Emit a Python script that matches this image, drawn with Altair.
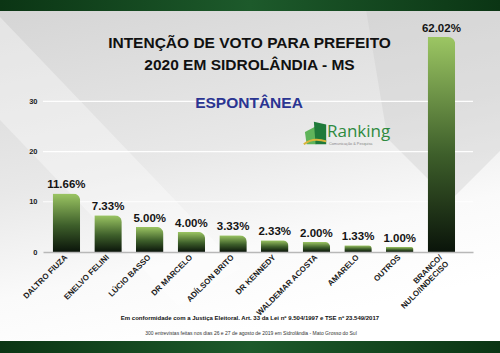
import altair as alt
import pandas as pd

# ---- data ----
candidates = ["DALTRO FIUZA", "ENELVO FELINI", "LÚCIO BASSO", "DR MARCELO", "ADÍLSON BRITO",
              "DR KENNEDY", "WALDEMAR ACOSTA", "AMARELO", "OUTROS", "BRANCO/\nNULO/INDECISO"]
values = [11.66, 7.33, 5.00, 4.00, 3.33, 2.33, 2.00, 1.33, 1.00, 62.02]
y_ticks = [0, 10, 20, 30]

title_lines = ["INTENÇÃO DE VOTO PARA PREFEITO", "2020 EM SIDROLÂNDIA - MS"]
subtitle = "ESPONTÂNEA"
footer1 = "Em conformidade com a Justiça Eleitoral. Art. 33 da Lei nº 9.504/1997 e TSE nº 23.549/2017"
footer2 = "300 entrevistas feitas nos dias 26 e 27 de agosto de 2019 em Sidrolândia - Mato Grosso do Sul"

df = pd.DataFrame({"cand": candidates, "value": values})
ticks_df = pd.DataFrame({"t": y_ticks})
one = pd.DataFrame({"a": [0]})

W, H = 430, 216
Y_MAX = 43

xscale = alt.Scale(paddingInner=0.34, paddingOuter=0.33, align=0.35)
yscale = alt.Scale(domain=[0, Y_MAX], nice=False)
yaxis = alt.Axis(values=y_ticks, ticks=False, domain=False, labelPadding=6,
                 labelFont="Liberation Sans", labelFontWeight="bold", labelFontSize=7.5,
                 labelColor="#222222", grid=False, zindex=1, title=None)

# ---- background decorations ----
bg = alt.Chart(one).mark_rect(
    color=alt.Gradient(gradient="linear",
                       stops=[alt.GradientStop(color="#d4d4d4", offset=0),
                              alt.GradientStop(color="#e8e8e8", offset=0.5),
                              alt.GradientStop(color="#fafafa", offset=0.78),
                              alt.GradientStop(color="#ffffff", offset=1)],
                       x1=0, x2=0.3, y1=0, y2=1)
).encode(x=alt.value(-43), x2=alt.value(457), y=alt.value(-36), y2=alt.value(317))

# subtle diagonal light bands (decorative)
stripe1 = alt.Chart(one).mark_point(
    shape="M -1 -0.55 L -0.75 -0.7 L 0.35 0.45 L 0.1 0.6 Z", filled=True,
    color="#ffffff", opacity=0.35, size=250000).encode(x=alt.value(110), y=alt.value(120))
stripe2 = alt.Chart(one).mark_point(
    shape="M 0.45 -0.75 L 1 -0.75 L 1 -0.1 L 0.8 0.1 L 0.55 -0.15 Z", filled=True,
    color="#c8c8c8", opacity=0.35, size=250000).encode(x=alt.value(207), y=alt.value(140))

band_grad = alt.Gradient(gradient="linear",
                         stops=[alt.GradientStop(color="#0b3514", offset=0),
                                alt.GradientStop(color="#1d5a2b", offset=0.5),
                                alt.GradientStop(color="#0b3514", offset=1)],
                         x1=0, x2=1, y1=0, y2=0)
top_band = alt.Chart(one).mark_rect(color=band_grad).encode(
    x=alt.value(-43), x2=alt.value(457), y=alt.value(-36), y2=alt.value(-25))
bot_band = alt.Chart(one).mark_rect(color=band_grad).encode(
    x=alt.value(-43), x2=alt.value(457), y=alt.value(305), y2=alt.value(317))

# white grid lines behind the bars
grid = alt.Chart(ticks_df).transform_filter("datum.t > 0").mark_rule(
    color="#ffffff", strokeWidth=1.2, opacity=0.95).encode(
    y=alt.Y("t:Q", scale=yscale, axis=yaxis),
    x=alt.value(0), x2=alt.value(W))

# ---- bars ----
bar_grad = alt.Gradient(gradient="linear",
                        stops=[alt.GradientStop(color="#0a140a", offset=0),
                               alt.GradientStop(color="#3d5e2a", offset=0.45),
                               alt.GradientStop(color="#9cc663", offset=1)],
                        x1=0, x2=0, y1=1, y2=0)

base = alt.Chart(df).transform_calculate(
    shown=f"min(datum.value, {Y_MAX - 0.2})",
    label="format(datum.value, '.2f') + '%'"
)

x_enc = alt.X("cand:N", sort=candidates, scale=xscale, title=None,
              axis=alt.Axis(labelAngle=-45, labelAlign="right", labelBaseline="middle",
                            labelFont="Liberation Sans", labelFontWeight="bold", labelFontSize=8,
                            labelColor="#1a1a1a", labelPadding=4, ticks=False,
                            domainColor="#b8b8b8", domainWidth=1.5, grid=False, zindex=1,
                            labelExpr="split(datum.label, '\\n')", labelLineHeight=9))

bars = base.mark_bar(color=bar_grad, cornerRadiusTopRight=7).encode(
    x=x_enc,
    y=alt.Y("shown:Q", scale=yscale, title=None, axis=yaxis)
)

labels = base.mark_text(font="Liberation Sans", fontWeight="bold", fontSize=11.5,
                        color="#141414", baseline="alphabetic", dy=-5).encode(
    x=alt.X("cand:N", sort=candidates, scale=xscale),
    y=alt.Y("shown:Q", scale=yscale, axis=yaxis),
    text="label:N"
)

# ---- texts ----
def txt(s, x, y, size, color="#111111", weight="bold", font="Liberation Sans", align="center"):
    return alt.Chart(one).mark_text(text=s, font=font, fontSize=size, fontWeight=weight,
                                    color=color, align=align, baseline="middle").encode(
        x=alt.value(x), y=alt.value(y))

t1 = txt(title_lines[0], 206.5, 7, 15.5)
t2 = txt(title_lines[1], 206.5, 29, 15.5)
t3 = txt(subtitle, 206, 67, 15.5, color="#2b3592")
f1 = txt(footer1, 207, 282, 6)
f2 = txt(footer2, 208, 297, 5, color="#333333", weight="normal")

# ---- logo ----
logo_text = txt("Ranking", 284, 96, 17, color="#2f8a3f", weight="normal", font="Open Sans", align="left")
logo_sub = txt("Comunicação & Pesquisa", 286, 108, 3.8, color="#888888", weight="normal", align="left")
icon1 = alt.Chart(one).mark_point(shape="M -0.1 -1 L 1 -0.75 L 1 1 L 0.05 1 Z", filled=True,
                                  color="#1f7a3a", opacity=1, size=500).encode(
    x=alt.value(272), y=alt.value(97))
icon2 = alt.Chart(one).mark_point(shape="M -0.9 -0.1 L 0.0 -0.55 L 0.1 1 L -0.75 1 Z", filled=True,
                                  color="#5fb45a", opacity=1, size=500).encode(
    x=alt.value(272), y=alt.value(97))
icon3 = alt.Chart(one).mark_point(shape="M -1 1 Q -0.2 0.35 1 0.75", filled=False,
                                  color="#d9b53a", strokeWidth=2, opacity=1, size=500).encode(
    x=alt.value(272), y=alt.value(97))

chart = alt.layer(bg, stripe1, stripe2, top_band, bot_band, grid, bars, labels, t1, t2, t3, f1, f2,
                  icon2, icon1, icon3, logo_text, logo_sub).properties(
    width=W, height=H,
    autosize=alt.AutoSizeParams(type="none"),
    padding={"left": 43, "top": 36, "right": 27, "bottom": 101},
    background="#ffffff"
).configure_view(stroke=None)

chart.save("out.html", embed_options={"renderer": "svg", "actions": False})
